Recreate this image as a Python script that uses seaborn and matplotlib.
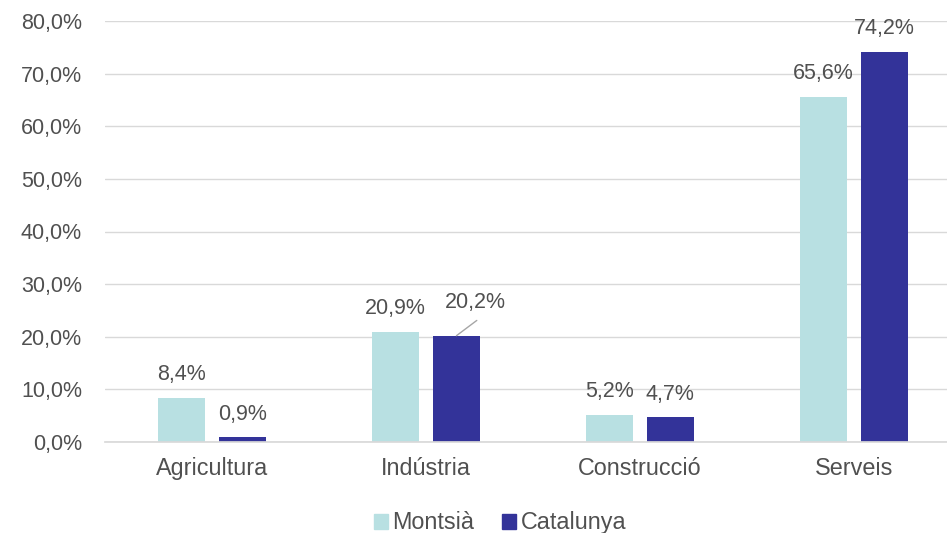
import matplotlib
matplotlib.use('Agg')
import matplotlib.pyplot as plt
import pandas as pd
import seaborn as sns

# dades
sectors = ['Agricultura', 'Indústria', 'Construcció', 'Serveis']
montsia = [8.4, 20.9, 5.2, 65.6]
catalunya = [0.9, 20.2, 4.7, 74.2]
series = ['Montsià', 'Catalunya']
colors = ['#b8e0e2', '#333399']

df = pd.DataFrame({
    'sector': sectors * 2,
    'valor': montsia + catalunya,
    'zona': [series[0]] * 4 + [series[1]] * 4,
})

sns.set_theme(style='white')
plt.rcParams['font.family'] = ['Liberation Sans', 'DejaVu Sans']
fs = 15.5
fs_cat = 16.8
tc = '#505050'

fig = plt.figure(figsize=(9.47, 5.33), dpi=100)
ax = fig.add_axes([105 / 947, (533 - 442) / 533, (947 - 105) / 947, (442 - 21) / 533])

sns.barplot(data=df, x='sector', y='valor', hue='zona', palette=colors,
            saturation=1, linewidth=0, width=0.57, gap=0.22, ax=ax, legend=False)

ax.set_ylim(0, 80)
ax.set_xlim(-0.5, 3.435)
ax.set_yticks(range(0, 81, 10))
ax.set_yticklabels([f'{v:.1f}%'.replace('.', ',') for v in range(0, 81, 10)])
ax.grid(axis='y', color='#d9d9d9', linewidth=1)
ax.set_axisbelow(True)
for s in ['top', 'right', 'left']:
    ax.spines[s].set_visible(False)
ax.spines['bottom'].set_color('#d9d9d9')
ax.tick_params(axis='both', length=0, labelsize=fs, colors=tc)
ax.tick_params(axis='x', pad=11, labelsize=fs_cat)
ax.tick_params(axis='y', pad=16.5)
ax.set_xlabel('')
ax.set_ylabel('')

# etiquetes de valor
for i, cont in enumerate(ax.containers):
    for j, bar in enumerate(cont):
        v = bar.get_height()
        txt = f'{v:.1f}%'.replace('.', ',')
        xc = bar.get_x() + bar.get_width() / 2
        if i == 1 and j == 1:
            # etiqueta desplaçada amb línia guia
            ax.plot([xc, xc + 0.095], [v, v + 2.9], color='#a6a6a6', lw=1,
                    clip_on=False)
            ax.text(xc + 0.09, v + 4.4, txt, ha='center', va='bottom',
                    fontsize=fs, color=tc, clip_on=False)
        else:
            ax.text(xc, v + 2.4, txt, ha='center', va='bottom', fontsize=fs,
                    color=tc, clip_on=False)

handles = [plt.Rectangle((0, 0), 1, 1, color=c) for c in colors]
fig.legend(handles, series, loc='lower center', bbox_to_anchor=(0.528, -0.042),
           ncol=2, frameon=False, fontsize=fs_cat, handlelength=0.6, handleheight=0.6,
           handletextpad=0.2, columnspacing=1.2, labelcolor=tc)

fig.savefig('out.png', dpi=100)
